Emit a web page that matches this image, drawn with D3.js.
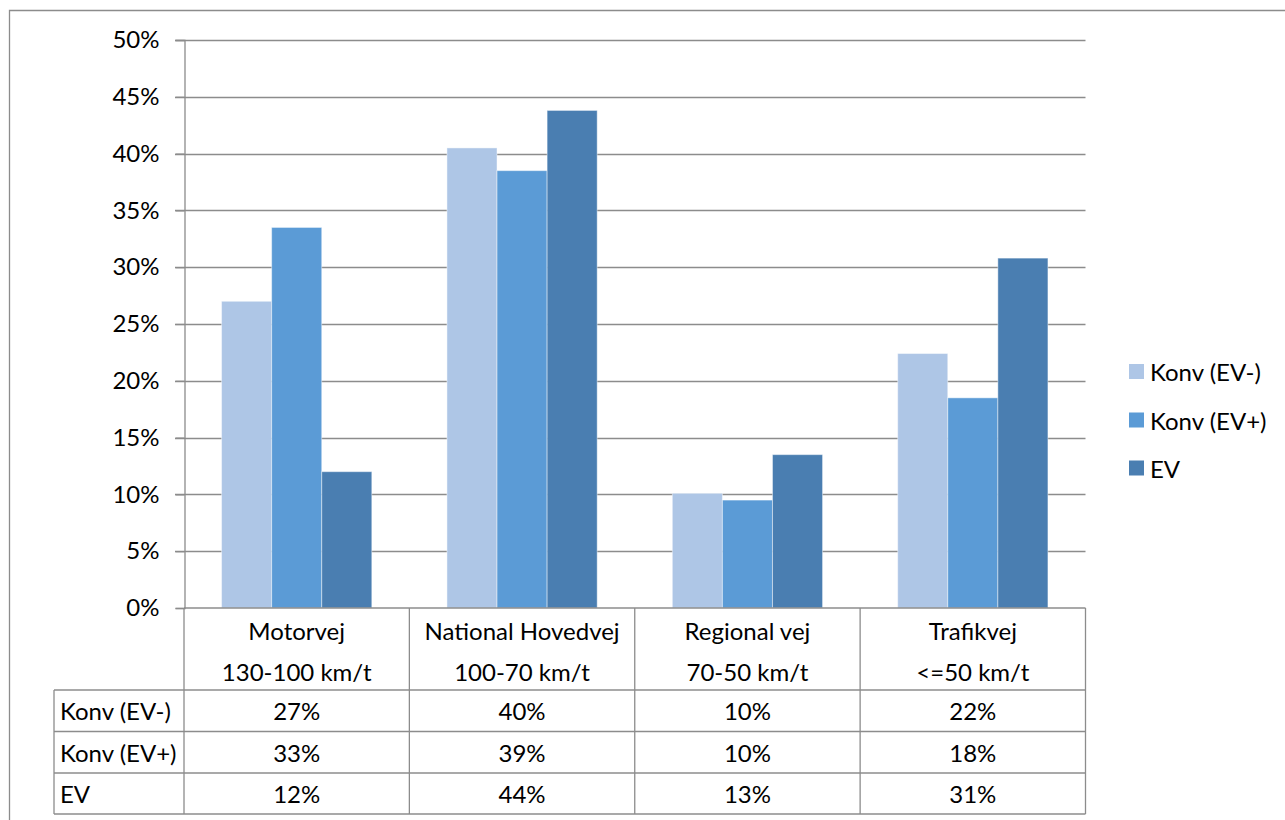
<!DOCTYPE html>
<html><head><meta charset="utf-8">
<script src="https://cdn.jsdelivr.net/npm/d3@7/dist/d3.min.js"></script>
<style>body{margin:0;background:#fff;}svg{display:block;font-family:Lato,"Open Sans",sans-serif;}</style>
</head><body>
<script>
const categories = ["Motorvej", "National Hovedvej", "Regional vej", "Trafikvej"];
const categorySub = ["130-100 km/t", "100-70 km/t", "70-50 km/t", "<=50 km/t"];
const seriesNames = ["Konv (EV-)", "Konv (EV+)", "EV"];
const konvMinus = [0.270, 0.405, 0.101, 0.224];
const konvPlus = [0.335, 0.385, 0.095, 0.185];
const ev = [0.120, 0.438, 0.135, 0.308];
const tableLabels = [["27%","40%","10%","22%"],["33%","39%","10%","18%"],["12%","44%","13%","31%"]];
const yTicks = [0,0.05,0.10,0.15,0.20,0.25,0.30,0.35,0.40,0.45,0.50];
const colors = ["#aec6e6", "#5b9bd6", "#4a7eb1"];

const W = 1285, H = 820;
const svg = d3.select("body").append("svg").attr("width", W).attr("height", H);
const fs = 24;
const gridColor = "#8c8c8c";

// outer frame
svg.append("path").attr("d", `M9.5,${H+2}V10.5H${W+2}`).attr("fill","none").attr("stroke","#8c8c8c").attr("stroke-width",1.3);

const plotLeft = 184, plotRight = 1085.5, plotTop = 40, plotBottom = 608;
const x0 = d3.scaleBand().domain(categories).range([plotLeft, plotRight]).padding(0);
const x1 = d3.scaleBand().domain(seriesNames).range([0, x0.bandwidth()]).paddingInner(0).paddingOuter(0.75);
const y = d3.scaleLinear().domain([0, 0.5]).range([plotBottom, plotTop]);

// gridlines
svg.append("g").selectAll("line").data(yTicks.filter(t=>t>0)).join("line")
  .attr("x1", plotLeft - 9).attr("x2", plotRight).attr("y1", d=>Math.round(y(d))+0.5).attr("y2", d=>Math.round(y(d))+0.5)
  .attr("stroke", gridColor).attr("stroke-width", 1.3);

// y axis
const yAxis = d3.axisLeft(y).tickValues(yTicks).tickFormat(d3.format(".0%")).tickSize(9).tickPadding(16);
const ya = svg.append("g").attr("transform", `translate(${plotLeft+0.5},0)`).call(yAxis);
ya.select(".domain").attr("stroke", gridColor).attr("stroke-width",1.3);
ya.selectAll(".tick line").attr("stroke", gridColor).attr("stroke-width",1.3);
ya.selectAll(".tick text").attr("font-size", fs).attr("font-family","Lato").attr("fill","#000");

// bars
const seriesData = [konvMinus, konvPlus, ev];
seriesData.forEach((vals, si) => {
  svg.append("g").selectAll("rect").data(vals).join("rect")
    .attr("x", (d,i)=> x0(categories[i]) + x1(seriesNames[si]))
    .attr("width", x1.bandwidth())
    .attr("y", d=>y(d))
    .attr("height", d=>y(0)-y(d))
    .attr("fill", colors[si])
    .attr("stroke", "rgba(255,255,255,0.45)").attr("stroke-width", 1);
});

// data table
const tbl = svg.append("g");
const rowY = [608, 690, 731.5, 773, 814];
const tableLeft = 54;
const line = (xa, ya_, xb, yb) => tbl.append("line").attr("x1",xa).attr("y1",ya_).attr("x2",xb).attr("y2",yb)
  .attr("stroke", gridColor).attr("stroke-width", 1.3);
line(plotLeft, rowY[0], plotRight, rowY[0]);
for (let r = 1; r < rowY.length; r++) line(tableLeft, rowY[r], plotRight, rowY[r]);
line(tableLeft, rowY[1], tableLeft, rowY[4]);
categories.forEach((c,i)=> line(x0(c), rowY[0], x0(c), rowY[4]));
line(plotRight, rowY[0], plotRight, rowY[4]);

// header text
categories.forEach((c,i)=>{
  const cx = x0(c) + x0.bandwidth()/2;
  tbl.append("text").attr("x", cx).attr("y", 630).attr("text-anchor","middle").attr("dominant-baseline","central")
    .attr("font-size", fs).text(c);
  tbl.append("text").attr("x", cx).attr("y", 671).attr("text-anchor","middle").attr("dominant-baseline","central")
    .attr("font-size", fs).text(categorySub[i]);
});
seriesNames.forEach((s, r)=>{
  const cy = (rowY[r+1] + rowY[r+2]) / 2;
  tbl.append("text").attr("x", 60).attr("y", cy).attr("dominant-baseline","central").attr("font-size", fs).text(s);
  categories.forEach((c,i)=>{
    tbl.append("text").attr("x", x0(c) + x0.bandwidth()/2).attr("y", cy).attr("text-anchor","middle")
      .attr("dominant-baseline","central").attr("font-size", fs).text(tableLabels[r][i]);
  });
});

// legend
const lg = svg.append("g");
const legY = [371.5, 420, 468];
seriesNames.forEach((s,i)=>{
  lg.append("rect").attr("x", 1129).attr("y", legY[i]-7.5).attr("width", 15).attr("height", 15).attr("fill", colors[i]);
  lg.append("text").attr("x", 1150).attr("y", legY[i]).attr("dominant-baseline","central").attr("font-size", fs).text(s);
});
</script>
</body></html>
